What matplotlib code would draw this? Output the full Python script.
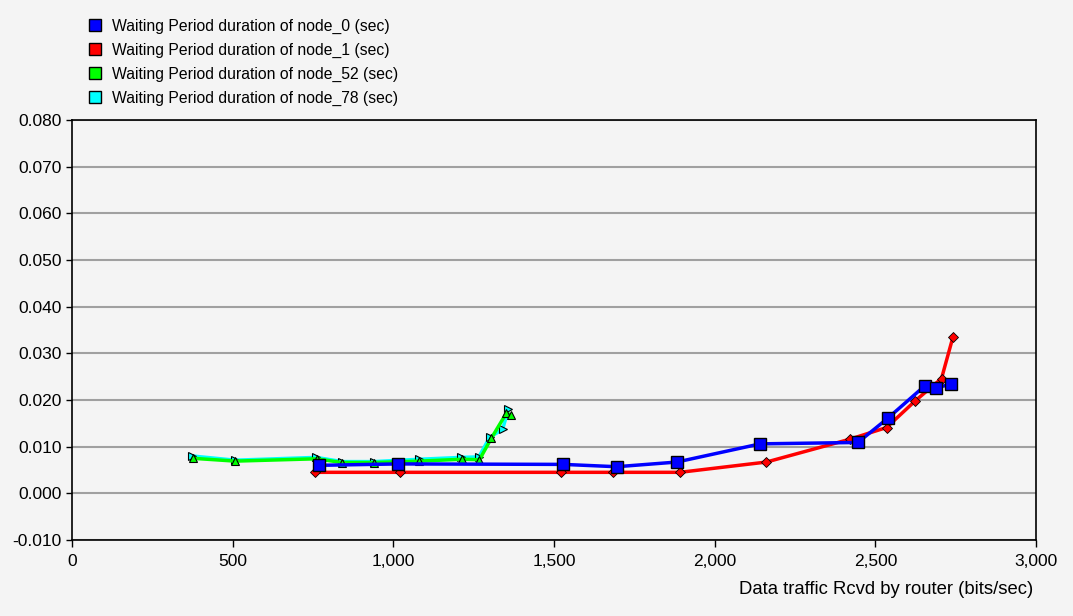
import matplotlib
matplotlib.use("Agg")
import matplotlib.pyplot as plt
from matplotlib.lines import Line2D
from matplotlib.ticker import FuncFormatter

# 数据：路由器接收流量 (bits/sec) 与各节点等待时间 (sec)
node0_x = [769, 1016, 1529, 1695, 1882, 2142, 2446, 2539, 2655, 2688, 2737]
node0_y = [0.0060, 0.0063, 0.0062, 0.0057, 0.0067, 0.0106, 0.0109, 0.0161, 0.0231, 0.0226, 0.0234]

node1_x = [757, 1021, 1522, 1684, 1892, 2161, 2421, 2535, 2624, 2706, 2742]
node1_y = [0.0045, 0.0045, 0.0045, 0.0045, 0.0045, 0.0067, 0.0116, 0.0141, 0.0198, 0.0246, 0.0336]

node52_x = [377, 508, 761, 840, 941, 1081, 1214, 1268, 1305, 1352, 1365]
node52_y = [0.0075, 0.0069, 0.0074, 0.0066, 0.0066, 0.0069, 0.0073, 0.0072, 0.0118, 0.0172, 0.0168]

node78_x = [374, 508, 760, 840, 941, 1081, 1212, 1266, 1300, 1340, 1358]
node78_y = [0.0080, 0.0071, 0.0077, 0.0068, 0.0068, 0.0073, 0.0077, 0.0078, 0.0120, 0.0137, 0.0180]

labels = ["Waiting Period duration of node_0 (sec)",
          "Waiting Period duration of node_1 (sec)",
          "Waiting Period duration of node_52 (sec)",
          "Waiting Period duration of node_78 (sec)"]
colors = ["#0000ff", "#ff0000", "#00ff00", "#00ffff"]

plt.rcParams['font.family'] = ['Liberation Sans', 'DejaVu Sans']
bg = "#f4f4f4"

fig = plt.figure(figsize=(10.73, 6.16), dpi=100, facecolor=bg)
ax = fig.add_axes([0.0671, 0.1234, 0.8984, 0.6818], facecolor=bg)

# 画线（绘制顺序：青、绿、红、蓝）
ax.plot(node78_x, node78_y, '-', color=colors[3], lw=2.5, marker='>', ms=6,
        mfc=colors[3], mec='black', mew=0.8, zorder=3)
ax.plot(node52_x, node52_y, '-', color=colors[2], lw=2.5, marker='^', ms=6,
        mfc=colors[2], mec='black', mew=0.8, zorder=4)
ax.plot(node1_x, node1_y, '-', color=colors[1], lw=2.5, marker='D', ms=5,
        mfc=colors[1], mec='black', mew=0.6, zorder=5)
ax.plot(node0_x, node0_y, '-', color=colors[0], lw=2.5, marker='s', ms=8,
        mfc=colors[0], mec='black', mew=1.0, zorder=6)

ax.set_xlim(0, 3000)
ax.set_ylim(-0.010, 0.080)
ax.set_xticks(range(0, 3001, 500))
ax.set_yticks([i / 1000 for i in range(-10, 81, 10)])
ax.xaxis.set_major_formatter(FuncFormatter(lambda v, p: f"{int(v):,}"))
ax.yaxis.set_major_formatter(FuncFormatter(lambda v, p: f"{v:.3f}"))
ax.tick_params(axis='both', direction='out', width=1, labelsize=12.5, colors='black')
ax.tick_params(axis='x', length=5, pad=5)
ax.tick_params(axis='y', length=4, pad=3.5)
ax.yaxis.grid(True, color='#a0a0a0', lw=1.5)
ax.set_axisbelow(True)
for s in ax.spines.values():
    s.set_color('black')
    s.set_linewidth(1.2)

ax.set_xlabel("Data traffic Rcvd by router (bits/sec)", fontsize=13.3, loc='right', labelpad=9)
ax.xaxis.label.set_x(0.997)

# 图例
handles = [Line2D([], [], ls='none', marker='s', ms=8, mfc=c, mec='black', mew=1.0) for c in colors]
fig.legend(handles, labels, loc='upper left', bbox_to_anchor=(0.0764, 0.980),
           frameon=False, fontsize=11.3, handlelength=0.8, handletextpad=0.72,
           labelspacing=0.56, borderaxespad=0)

fig.savefig("out.png", dpi=100, facecolor=bg)
